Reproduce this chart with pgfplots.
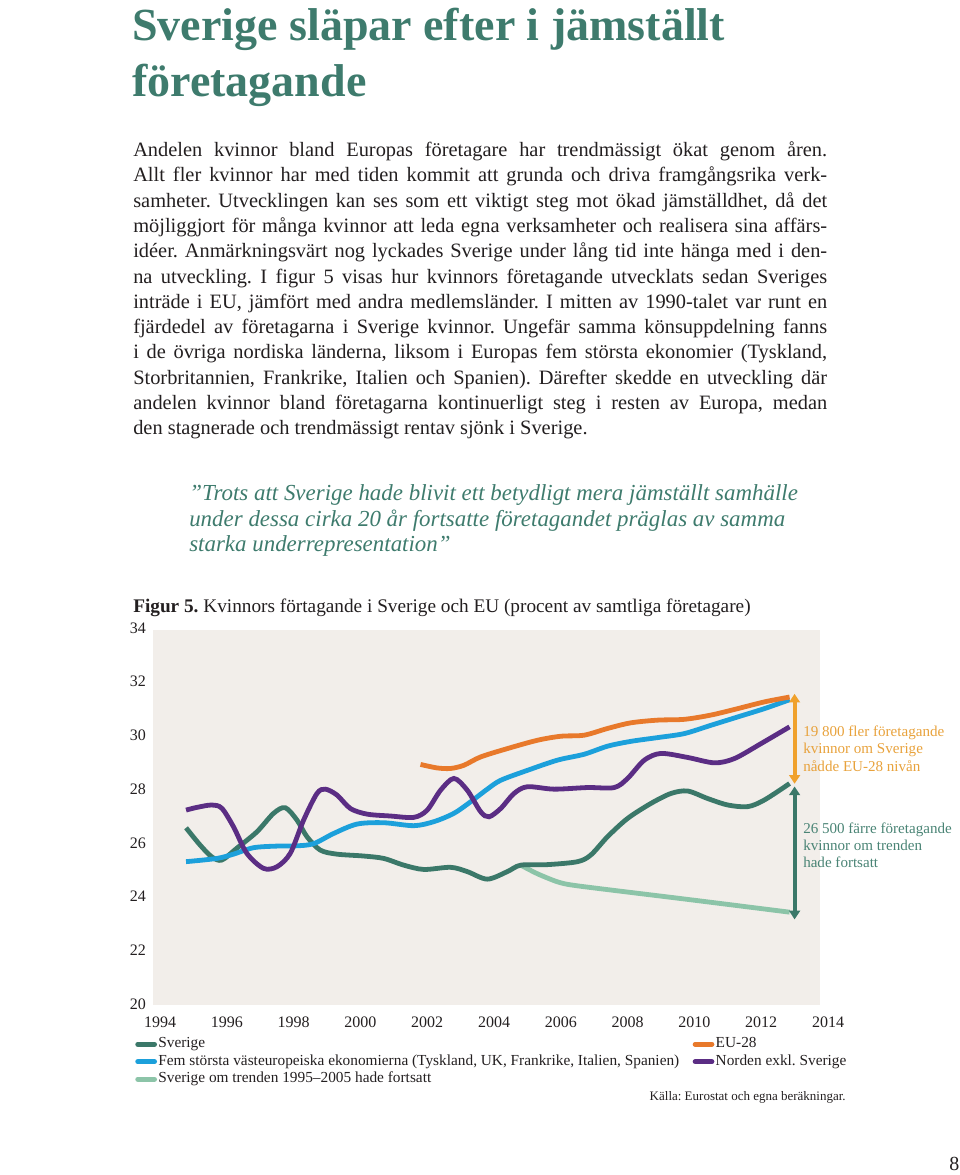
\documentclass[border=0pt]{standalone}
\usepackage{fontspec}
\setmainfont{Liberation Serif}
\usepackage{pgfplots}
\pgfplotsset{compat=1.18}
\usetikzlibrary{arrows.meta}
\definecolor{titlegreen}{HTML}{3E7B6D}
\definecolor{cSve}{HTML}{3B7869}
\definecolor{cEU}{HTML}{E8792B}
\definecolor{cFem}{HTML}{1CA0DB}
\definecolor{cNor}{HTML}{5B2D84}
\definecolor{cTrend}{HTML}{8CC4A8}
\definecolor{cArrow}{HTML}{F0A12C}
\definecolor{cAnnO}{HTML}{E8A23C}
\definecolor{cAnnG}{HTML}{4A8475}
\definecolor{bgc}{HTML}{F2EEEA}
\definecolor{txt}{HTML}{231F20}
\makeatletter
\def\wsp{\special{pdf:content q Q}}
\def\splitw#1{\splitw@#1 \@end}
\def\splitw@#1 #2\@end{#1\ifx\relax#2\relax\else\wsp\space\splitw@#2\@end\fi}
\makeatother
\newcommand\bodyline[2]{\node[anchor=base west,inner sep=0pt,font=\fontsize{15.3}{19}\selectfont,text=txt] at (133,#1) {\makebox[520.5pt][s]{\splitw{#2}}};}
\begin{document}
\frenchspacing
\begin{tikzpicture}
\begin{scope}[x=0.75pt,y=-0.75pt]
\path[use as bounding box] (0,0) rectangle (960,1175);
% title
\node[anchor=base west,inner sep=0pt,text=titlegreen,font=\fontsize{34.5}{42}\selectfont\bfseries] at (132,40) {\splitw{Sverige släpar efter i jämställt}};
\node[anchor=base west,inner sep=0pt,text=titlegreen,font=\fontsize{34.5}{42}\selectfont\bfseries] at (132,96) {företagande};
% body
\bodyline{156.5}{Andelen kvinnor bland Europas företagare har trendmässigt ökat genom åren.}
\bodyline{181.8}{Allt fler kvinnor har med tiden kommit att grunda och driva framgångsrika verk-}
\bodyline{207.1}{samheter. Utvecklingen kan ses som ett viktigt steg mot ökad jämställdhet, då det}
\bodyline{232.4}{möjliggjort för många kvinnor att leda egna verksamheter och realisera sina affärs-}
\bodyline{257.7}{idéer. Anmärkningsvärt nog lyckades Sverige under lång tid inte hänga med i den-}
\bodyline{283.0}{na utveckling. I figur 5 visas hur kvinnors företagande utvecklats sedan Sveriges}
\bodyline{308.3}{inträde i EU, jämfört med andra medlemsländer. I mitten av 1990-talet var runt en}
\bodyline{333.6}{fjärdedel av företagarna i Sverige kvinnor. Ungefär samma könsuppdelning fanns}
\bodyline{358.9}{i de övriga nordiska länderna, liksom i Europas fem största ekonomier (Tyskland,}
\bodyline{384.2}{Storbritannien, Frankrike, Italien och Spanien). Därefter skedde en utveckling där}
\bodyline{409.5}{andelen kvinnor bland företagarna kontinuerligt steg i resten av Europa, medan}
\node[anchor=base west,inner sep=0pt,font=\fontsize{15.3}{19}\selectfont,text=txt] at (133,434.8) {\splitw{den stagnerade och trendmässigt rentav sjönk i Sverige.}};
% quote
\node[anchor=base west,inner sep=0pt,font=\fontsize{17.2}{19}\selectfont\itshape,text=titlegreen] at (189,500) {\splitw{”Trots att Sverige hade blivit ett betydligt mera jämställt samhälle}};
\node[anchor=base west,inner sep=0pt,font=\fontsize{17.2}{19}\selectfont\itshape,text=titlegreen] at (189,526) {\splitw{under dessa cirka 20 år fortsatte företagandet präglas av samma}};
\node[anchor=base west,inner sep=0pt,font=\fontsize{17.2}{19}\selectfont\itshape,text=titlegreen] at (189,551.7) {\splitw{starka underrepresentation”}};
% caption
\node[anchor=base west,inner sep=0pt,font=\fontsize{14.45}{16}\selectfont,text=txt] at (133,612) {\textbf{Figur\wsp\space 5.}\wsp\space\splitw{Kvinnors förtagande i Sverige och EU (procent av samtliga företagare)}};
% source and page number
\node[anchor=base east,inner sep=0pt,font=\fontsize{9.75}{11}\selectfont,text=txt] at (846,1100) {\splitw{Källa: Eurostat och egna beräkningar.}};
\node[anchor=base west,inner sep=0pt,font=\fontsize{15}{17}\selectfont,text=txt] at (949,1170) {8};
\end{scope}
\begin{axis}[
  at={(120pt,-753pt)}, anchor=south west,
  scale only axis, width=501pt, height=282pt,
  xmin=1994, xmax=2014, ymin=20, ymax=34,
  clip=false,
  axis line style={draw=none}, major tick length=0pt,
  xtick={1994,1996,...,2014}, ytick={20,22,...,34},
  /pgf/number format/assume math mode=true,
  /pgf/number format/1000 sep={},
  ticklabel style={font=\fontsize{12}{13}\selectfont, text=txt},
  yticklabel style={xshift=-7pt},
  xticklabel style={yshift=-6pt},
  legend columns=2, legend cell align=left,
  legend image code/.code={\draw[#1,line width=3.8pt,line cap=round] (0pt,0pt) -- (12.5pt,0pt);},
  legend style={at={(axis description cs:-0.0434,-0.077)}, anchor=north west, draw=none, fill=none,
    font=\fontsize{11.5}{13}\selectfont, text=txt,
    nodes={inner sep=1pt, text height=8pt, text depth=2.5pt},
    row sep=0.6pt,
    /tikz/every even column/.append style={column sep=9pt}},
]
\fill[bgc] (axis cs:1993.79,19.96) rectangle (axis cs:2013.76,33.93);
\addlegendimage{cSve}\addlegendentry{Sverige}
\addlegendimage{cEU}\addlegendentry{EU-28}
\addlegendimage{cFem}\addlegendentry{\splitw{Fem största västeuropeiska ekonomierna (Tyskland, UK, Frankrike, Italien, Spanien)}}
\addlegendimage{cNor}\addlegendentry{\splitw{Norden exkl. Sverige}}
\addlegendimage{cTrend}\addlegendentry{\splitw{Sverige om trenden 1995–2005 hade fortsatt}}
% trend
\addplot[forget plot, cTrend, line width=3.6pt, smooth, tension=0.4] coordinates {
(2004.8,25.17) (2005.3,24.85) (2005.9,24.55) (2006.5,24.40) (2009.7,23.91) (2012.85,23.42)};
% Sverige
\addplot[forget plot, cSve, line width=3.6pt, smooth, tension=0.5] coordinates {
(1994.78,26.56) (1995.2,25.92) (1995.55,25.48) (1995.85,25.36) (1996.3,25.80) (1996.9,26.41) (1997.4,27.10) (1997.75,27.31) (1998.1,26.85) (1998.4,26.23) (1998.8,25.73) (1999.3,25.58) (2000.1,25.51) (2000.7,25.42) (2001.3,25.17) (2001.9,25.01) (2002.7,25.09) (2003.2,24.93) (2003.8,24.65) (2004.4,24.93) (2004.8,25.17) (2005.6,25.19) (2006.5,25.30) (2006.9,25.55) (2007.4,26.23) (2008.0,26.91) (2008.7,27.47) (2009.3,27.84) (2009.8,27.93) (2010.4,27.65) (2011.0,27.41) (2011.6,27.35) (2012.1,27.60) (2012.85,28.21)};
% Fem storsta
\addplot[forget plot, cFem, line width=3.6pt, smooth, tension=0.5] coordinates {
(1994.78,25.30) (1995.7,25.42) (1996.2,25.58) (1996.8,25.82) (1997.5,25.88) (1998.1,25.89) (1998.6,25.97) (1999.2,26.35) (1999.9,26.70) (2000.7,26.75) (2001.6,26.64) (2002.2,26.79) (2002.8,27.10) (2003.3,27.53) (2003.8,28.0) (2004.2,28.33) (2005.0,28.70) (2005.9,29.08) (2006.7,29.30) (2007.4,29.60) (2008.1,29.78) (2008.9,29.92) (2009.7,30.07) (2010.5,30.38) (2011.3,30.69) (2012.1,31.0) (2012.85,31.33)};
% EU-28
\addplot[forget plot, cEU, line width=3.6pt, smooth, tension=0.5] coordinates {
(2001.8,28.92) (2002.3,28.79) (2002.7,28.77) (2003.1,28.89) (2003.6,29.20) (2004.4,29.51) (2005.3,29.82) (2006.0,29.97) (2006.7,30.01) (2007.4,30.26) (2008.1,30.47) (2008.9,30.57) (2009.7,30.60) (2010.5,30.76) (2011.3,31.0) (2012.1,31.25) (2012.85,31.43)};
% Norden
\addplot[forget plot, cNor, line width=3.6pt, smooth, tension=0.5] coordinates {
(1994.78,27.22) (1995.1,27.32) (1995.55,27.41) (1995.85,27.29) (1996.2,26.60) (1996.6,25.61) (1997.1,25.05) (1997.5,25.11) (1997.9,25.61) (1998.3,26.85) (1998.7,27.84) (1998.95,28.0) (1999.3,27.78) (1999.7,27.28) (2000.2,27.07) (2000.9,27.0) (2001.6,26.95) (2002.0,27.22) (2002.4,27.96) (2002.8,28.40) (2003.2,27.96) (2003.6,27.16) (2003.85,26.97) (2004.2,27.28) (2004.6,27.84) (2005.0,28.09) (2005.8,28.0) (2006.8,28.06) (2007.6,28.06) (2008.0,28.40) (2008.5,29.08) (2009.0,29.33) (2009.8,29.18) (2010.6,28.98) (2011.2,29.14) (2012.0,29.70) (2012.85,30.32)};
% arrows
\addplot[forget plot, cArrow, line width=3pt, {Triangle[width=8pt,length=6.5pt]}-{Triangle[width=8pt,length=6.5pt]}] coordinates {(2013,28.2) (2013,31.55)};
\addplot[forget plot, cSve, line width=3pt, {Triangle[width=8pt,length=6.5pt]}-{Triangle[width=8pt,length=6.5pt]}] coordinates {(2013,23.15) (2013,28.1)};
\end{axis}
\begin{scope}[x=0.75pt,y=-0.75pt]
% annotations
\node[anchor=base west,inner sep=0pt,font=\fontsize{11.3}{13}\selectfont,text=cAnnO] at (803,736) {\splitw{19 800 fler företagande}};
\node[anchor=base west,inner sep=0pt,font=\fontsize{11.3}{13}\selectfont,text=cAnnO] at (803,753.5) {\splitw{kvinnor om Sverige}};
\node[anchor=base west,inner sep=0pt,font=\fontsize{11.3}{13}\selectfont,text=cAnnO] at (803,771) {\splitw{nådde EU-28 nivån}};
\node[anchor=base west,inner sep=0pt,font=\fontsize{11.3}{13}\selectfont,text=cAnnG] at (803,833.3) {\splitw{26 500 färre företagande}};
\node[anchor=base west,inner sep=0pt,font=\fontsize{11.3}{13}\selectfont,text=cAnnG] at (803,850.7) {\splitw{kvinnor om trenden}};
\node[anchor=base west,inner sep=0pt,font=\fontsize{11.3}{13}\selectfont,text=cAnnG] at (803,867.7) {\splitw{hade fortsatt}};
\end{scope}
\end{tikzpicture}
\end{document}
